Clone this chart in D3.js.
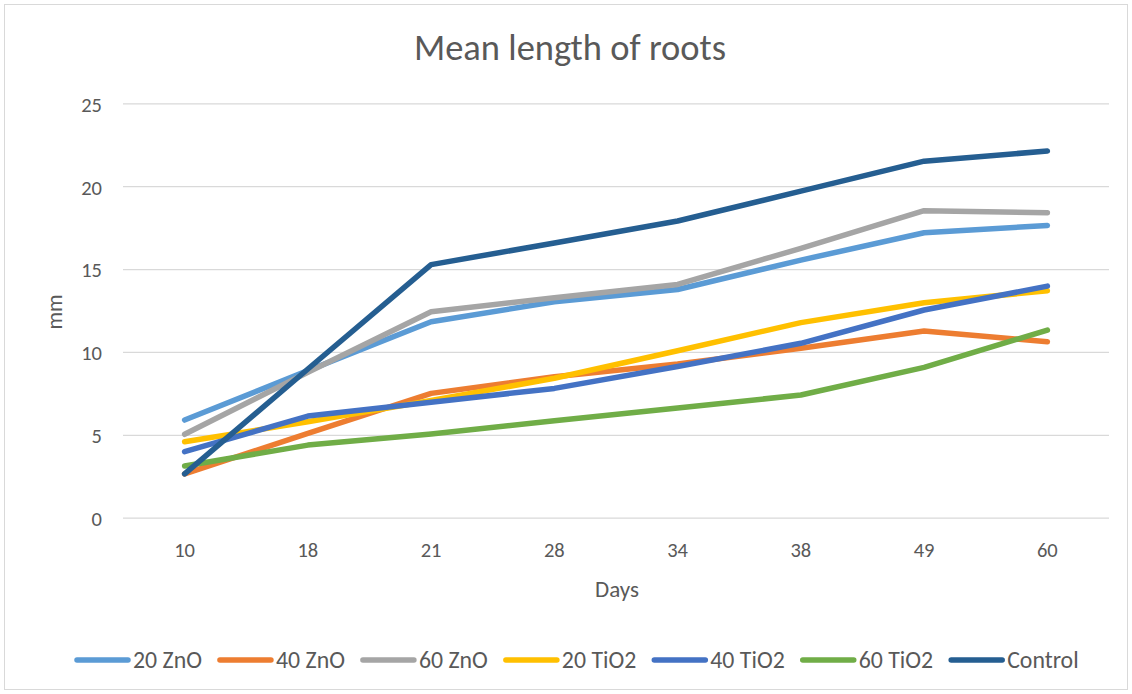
<!DOCTYPE html>
<html><head><meta charset="utf-8">
<script src="https://cdn.jsdelivr.net/npm/d3@7"></script>
<style>body{margin:0;background:#fff;} text{font-family:Carlito, Lato, "Liberation Sans", sans-serif;}</style>
</head><body>
<svg id="c" width="1132" height="694"></svg>
<script>
const categories = ["10","18","21","28","34","38","49","60"];
const seriesNames = ["20 ZnO","40 ZnO","60 ZnO","20 TiO2","40 TiO2","60 TiO2","Control"];
const colors = ["#5B9BD5","#ED7D31","#A5A5A5","#FFC000","#4472C4","#70AD47","#255E91"];
const zno20 = [5.92, 8.9, 11.85, 13.06, 13.8, 15.57, 17.22, 17.66];
const zno40 = [2.67, 5.12, 7.53, 8.53, 9.3, 10.25, 11.29, 10.65];
const zno60 = [5.06, 8.8, 12.45, 13.3, 14.1, 16.28, 18.55, 18.43];
const tio20 = [4.61, 5.82, 7.1, 8.44, 10.1, 11.8, 13.0, 13.72];
const tio40 = [4.01, 6.16, 7.0, 7.83, 9.15, 10.55, 12.56, 14.0];
const tio60 = [3.15, 4.41, 5.08, 5.88, 6.65, 7.43, 9.1, 11.35];
const control = [2.67, 9.0, 15.3, 16.6, 17.93, 19.73, 21.54, 22.15];
const yTicks = [0,5,10,15,20,25];
const allSeries = [zno20, zno40, zno60, tio20, tio40, tio60, control];

const svg = d3.select("#c");
const txt = "#595959";
svg.append("rect").attr("x",4.5).attr("y",4.5).attr("width",1123).attr("height",685)
  .attr("fill","#fff").attr("stroke","#D9D9D9");

const x = d3.scaleBand().domain(categories).range([123,1109]);
const y = d3.scaleLinear().domain([0,25]).range([518.2,103.8]);

// gridlines
svg.append("g").selectAll("line").data(yTicks).join("line")
  .attr("x1",123).attr("x2",1109).attr("y1",d=>y(d)).attr("y2",d=>y(d))
  .attr("stroke","#D9D9D9").attr("stroke-width",1.3);

// y axis labels
const ya = svg.append("g").attr("transform","translate(102,0)")
  .call(d3.axisLeft(y).tickValues(yTicks).tickSize(0).tickPadding(0));
ya.select(".domain").remove();
ya.selectAll("text").attr("fill",txt).style("font-size","20.5px").attr("dy","0.36em");

const xa = svg.append("g").attr("transform","translate(0,518.2)")
  .call(d3.axisBottom(x).tickSize(0).tickPadding(0));
xa.select(".domain").remove();
xa.selectAll("text").attr("fill",txt).style("font-size","20.5px").attr("y",39).attr("dy",0);

// title & axis titles
svg.append("text").attr("x",570).attr("y",60).attr("text-anchor","middle")
  .attr("fill",txt).style("font-size","36.5px").text("Mean length of roots");
svg.append("text").attr("x",617).attr("y",597).attr("text-anchor","middle")
  .attr("fill",txt).style("font-size","23px").text("Days");
svg.append("text").attr("transform","translate(62,312) rotate(-90)").attr("text-anchor","middle")
  .attr("fill",txt).style("font-size","22px").text("mm");

// lines
const line = d3.line().x((d,i)=>x(categories[i])+x.bandwidth()/2).y(d=>y(d));
svg.append("g").selectAll("path").data(allSeries).join("path")
  .attr("d",line).attr("fill","none").attr("stroke",(d,i)=>colors[i])
  .attr("stroke-width",5.5).attr("stroke-linejoin","round").attr("stroke-linecap","round");

// legend
const lg = svg.append("g");
const legStart = 75, legEnd = 1079, sw = 55, gapT = 3, gapItem = 16;
const texts = seriesNames.map(n => lg.append("text").attr("y",660).attr("dy","0.35em")
  .attr("fill",txt).style("font-size","20px").text(n));
let totalText = d3.sum(texts, t => t.node().getComputedTextLength());
const avail = (legEnd - legStart) - seriesNames.length*(sw+gapT) - (seriesNames.length-1)*gapItem;
const fs = Math.min(24, 20 * avail / totalText);
texts.forEach(t => t.style("font-size", fs + "px"));
let lx = legStart;
seriesNames.forEach((n,i)=>{
  lg.append("line").attr("x1",lx+2).attr("x2",lx+sw-2).attr("y1",660).attr("y2",660)
    .attr("stroke",colors[i]).attr("stroke-width",5.5).attr("stroke-linecap","round");
  texts[i].attr("x", lx+sw+gapT);
  lx += sw + gapT + texts[i].node().getComputedTextLength() + gapItem;
});
</script>
</body></html>
